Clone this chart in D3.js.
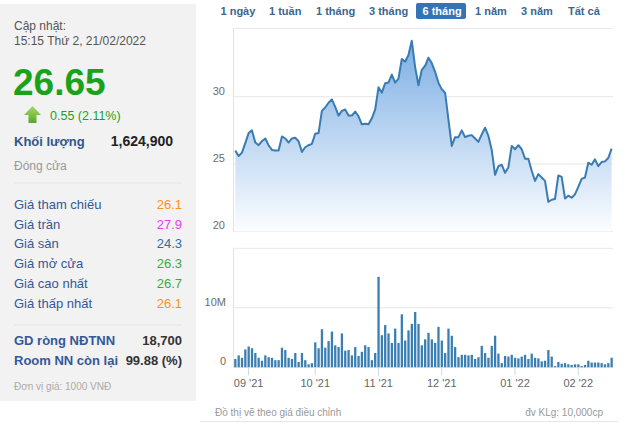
<!DOCTYPE html>
<html><head><meta charset="utf-8">
<script src="https://cdn.jsdelivr.net/npm/d3@7/dist/d3.min.js"></script>
<style>
html,body{margin:0;padding:0;background:#fff;}
svg{display:block;font-family:Arial,"Liberation Sans",sans-serif;}
</style></head>
<body><svg id="c" width="630" height="426"></svg>
<script>
// ---- data ----
const price = [26.0,25.6,25.85,26.55,27.3,27.5,26.6,26.4,26.7,26.9,
26.4,26.05,26.0,26.0,27.05,26.9,26.6,26.9,26.95,26.7,
25.9,26.25,26.4,26.5,27.25,27.3,28.95,29.2,29.55,29.8,
29.25,28.6,28.95,29.05,28.6,28.6,28.9,28.55,27.95,28.0,
27.95,28.4,29.05,30.7,30.3,31.0,31.05,31.65,31.05,31.35,
32.8,32.6,33.1,34.15,32.2,30.85,32.0,32.3,32.9,32.5,
31.85,31.05,30.55,30.3,28.3,26.35,27.0,27.0,27.5,27.0,
27.1,27.15,26.9,26.65,27.2,27.7,27.1,26.05,24.2,24.85,
24.95,24.35,24.75,26.35,26.1,26.4,26.1,25.4,25.4,24.5,
23.75,24.25,24.0,23.75,22.2,22.35,22.4,24.15,24.05,22.45,
22.65,22.5,22.75,23.3,23.9,24.0,25.1,24.95,25.35,24.85,
25.15,25.2,25.45,26.15];
const volume = [1.4,2.0,1.6,3.0,3.5,3.2,2.4,1.6,1.1,2.0,
1.7,1.6,1.2,1.2,3.3,2.9,1.6,1.4,2.4,0.9,
2.4,1.2,0.5,0.7,4.2,3.2,6.4,3.3,4.4,6.0,
3.7,3.4,5.7,2.8,2.9,2.0,3.4,1.9,2.6,3.7,
3.4,1.2,2.4,15.2,5.4,7.1,5.7,4.1,6.5,4.1,
8.9,4.5,6.2,7.3,9.3,7.3,3.7,4.7,5.8,4.7,
4.1,6.8,4.5,2.4,6.5,5.3,3.4,1.7,2.1,2.1,
2.0,2.1,1.4,1.7,3.6,2.4,1.6,3.6,5.3,2.3,
0.7,1.9,1.8,2.1,1.6,1.5,1.8,2.1,1.4,2.3,
1.6,1.5,1.0,1.1,2.9,1.8,0.2,0.9,0.6,0.7,
0.5,0.4,0.5,0.5,0.2,0.4,1.1,0.8,0.8,0.8,
0.7,0.5,0.7,1.6]; // millions
const monthTickIndex = [4,24,43,62,84,103];
const monthLabels = ["09 '21","10 '21","11 '21","12 '21","01 '22","02 '22"];
const priceTicks = [20,25,30];
const volTicks = [0,10];
const volTickLabels = ["0","10M"];
const tabs = ["1 ngày","1 tuần","1 tháng","3 tháng","6 tháng","1 năm","3 năm","Tất cả"];
const activeTab = "6 tháng";
const infoLabels = ["Giá tham chiếu","Giá trần","Giá sàn","Giá mở cửa","Giá cao nhất","Giá thấp nhất"];
const infoValues = ["26.1","27.9","24.3","26.3","26.7","26.1"];
const infoColors = ["#f7941d","#f03cf0","#2f6ea5","#3aab3a","#3aab3a","#f7941d"];
const foreignLabels = ["GD ròng NĐTNN","Room NN còn lại"];
const foreignValues = ["18,700","99.88 (%)"];

const svg = d3.select("#c");
// ---- left panel ----
svg.append("rect").attr("x",0).attr("y",4).attr("width",196).attr("height",397).attr("fill","#f2f2f2");
const L = svg.append("g");
L.append("text").attr("x",14).attr("y",30).attr("font-size",12).attr("fill","#555").text("Cập nhật:");
L.append("text").attr("x",14).attr("y",45).attr("font-size",12).attr("fill","#555").text("15:15 Thứ 2, 21/02/2022");
L.append("text").attr("x",13).attr("y",95).attr("font-size",37).attr("font-weight","bold").attr("fill","#1aa21a").text("26.65");
const defs = svg.append("defs");
const ag = defs.append("linearGradient").attr("id","arr").attr("x1",0).attr("y1",0).attr("x2",0).attr("y2",1);
ag.append("stop").attr("offset","0%").attr("stop-color","#a6d86a");
ag.append("stop").attr("offset","100%").attr("stop-color","#5aa82a");
L.append("path").attr("d","M24,115 L32.5,106 L41,115 L36.5,115 L36.5,123 L28.5,123 L28.5,115 Z").attr("fill","url(#arr)");
L.append("text").attr("x",50).attr("y",120).attr("font-size",12.5).attr("fill","#1aa21a").text("0.55 (2.11%)");
L.append("text").attr("x",14).attr("y",146).attr("font-size",13).attr("font-weight","bold").attr("fill","#34568a").text("Khối lượng");
L.append("text").attr("x",173).attr("y",146).attr("text-anchor","end").attr("font-size",14).attr("font-weight","bold").attr("fill","#222").text("1,624,900");
L.append("text").attr("x",14).attr("y",170).attr("font-size",12).attr("fill","#999").text("Đóng cửa");
L.append("line").attr("x1",14).attr("x2",182).attr("y1",183).attr("y2",183).attr("stroke","#e4e4e4");
infoLabels.forEach((t,i)=>{
  const y = 209 + i*19.7;
  L.append("text").attr("x",14).attr("y",y).attr("font-size",13).attr("fill","#34589a").text(t);
  L.append("text").attr("x",182).attr("y",y).attr("text-anchor","end").attr("font-size",13).attr("fill",infoColors[i]).text(infoValues[i]);
});
L.append("line").attr("x1",14).attr("x2",182).attr("y1",325).attr("y2",325).attr("stroke","#e4e4e4");
foreignLabels.forEach((t,i)=>{
  const y = 345 + i*20;
  L.append("text").attr("x",14).attr("y",y).attr("font-size",13).attr("fill","#34589a").attr("font-weight","bold").text(t);
  L.append("text").attr("x",182).attr("y",y).attr("text-anchor","end").attr("font-size",13).attr("fill","#333").attr("font-weight","bold").text(foreignValues[i]);
});
L.append("text").attr("x",14).attr("y",390).attr("font-size",10).attr("fill","#aaa").text("Đơn vị giá: 1000 VNĐ");

// ---- tabs ----
const tabX = [220.5,269,316,369,422.5,475,521,568];
tabs.forEach((t,i)=>{
  if(t===activeTab){
    svg.append("rect").attr("x",416).attr("y",3).attr("width",50).attr("height",16).attr("rx",2).attr("fill","#3474b5");
    svg.append("text").attr("x",tabX[i]).attr("y",15).attr("font-size",11).attr("font-weight","bold").attr("fill","#fff").text(t);
  } else {
    svg.append("text").attr("x",tabX[i]).attr("y",15).attr("font-size",11).attr("font-weight","bold").attr("fill","#3b6690").text(t);
  }
});

// ---- scales ----
const idx = d3.range(price.length);
const x = d3.scalePoint().domain(idx).range([235.3,611.6]);
const yP = d3.scaleLinear().domain([20,35]).range([231.4,29.4]);
const yV = d3.scaleLinear().domain([0,20]).range([367.3,248.3]);
const plotL = 233.5, plotR = 613;

// ---- price panel ----
priceTicks.forEach(v=>{
  svg.append("line").attr("x1",plotL).attr("x2",plotR).attr("y1",yP(v)).attr("y2",yP(v)).attr("stroke","#e6e6e6");
  svg.append("text").attr("x",225).attr("y",yP(v)-2).attr("text-anchor","end").attr("font-size",11).attr("fill","#706a66").text(v);
});
svg.append("line").attr("x1",plotL).attr("x2",plotR).attr("y1",yP(35)-1).attr("y2",yP(35)-1).attr("stroke","#e8e8e8");
svg.append("line").attr("x1",plotL).attr("x2",plotL).attr("y1",yP(35)-1).attr("y2",yP(20)).attr("stroke","#dbe3ee");
const g = defs.append("linearGradient").attr("id","fillG").attr("gradientUnits","userSpaceOnUse")
  .attr("x1",0).attr("y1",yP(d3.max(price))).attr("x2",0).attr("y2",yP(20));
g.append("stop").attr("offset","0%").attr("stop-color","#7caee4");
g.append("stop").attr("offset","55%").attr("stop-color","#c3daf3");
g.append("stop").attr("offset","100%").attr("stop-color","#fbfdff");
svg.append("path").datum(idx)
  .attr("d",d3.area().x(i=>x(i)).y0(yP(20)).y1(i=>yP(price[i])))
  .attr("fill","url(#fillG)");
svg.append("path").datum(idx)
  .attr("d",d3.line().x(i=>x(i)).y(i=>yP(price[i])))
  .attr("fill","none").attr("stroke","#3a7cb2").attr("stroke-width",2).attr("stroke-linejoin","round");

// ---- volume panel ----
volTicks.forEach((v,k)=>{
  svg.append("line").attr("x1",plotL).attr("x2",plotR).attr("y1",yV(v)).attr("y2",yV(v)).attr("stroke","#e6e6e6");
  svg.append("text").attr("x",226).attr("y",yV(v)-2).attr("text-anchor","end").attr("font-size",11).attr("fill","#706a66").text(volTickLabels[k]);
});
svg.append("line").attr("x1",plotL).attr("x2",plotR).attr("y1",yV(20)).attr("y2",yV(20)).attr("stroke","#e8e8e8");
svg.append("line").attr("x1",plotL).attr("x2",plotL).attr("y1",yV(20)).attr("y2",yV(0)).attr("stroke","#dbe3ee");
svg.append("g").selectAll("rect").data(idx).join("rect")
  .attr("x",i=>x(i)-1.1).attr("width",2.3)
  .attr("y",i=>yV(volume[i])).attr("height",i=>yV(0)-yV(volume[i]))
  .attr("fill","#3b7fb2");
// x axis
const xa = svg.append("g");
monthTickIndex.forEach((ti,k)=>{
  xa.append("line").attr("x1",x(ti)).attr("x2",x(ti)).attr("y1",yV(0)).attr("y2",yV(0)+8).attr("stroke","#ccd6eb");
  xa.append("text").attr("x",x(ti)).attr("y",387).attr("text-anchor","middle").attr("font-size",11).attr("fill","#666").text(monthLabels[k]);
});

// ---- footer ----
svg.append("text").attr("x",215).attr("y",416).attr("font-size",10).attr("fill","#999").text("Đồ thị vẽ theo giá điều chỉnh");
svg.append("text").attr("x",603).attr("y",416).attr("text-anchor","end").attr("font-size",10).attr("fill","#999").text("đv KLg: 10,000cp");
svg.append("line").attr("x1",200).attr("x2",618).attr("y1",421.5).attr("y2",421.5).attr("stroke","#e6e6e6");
</script></body></html>
